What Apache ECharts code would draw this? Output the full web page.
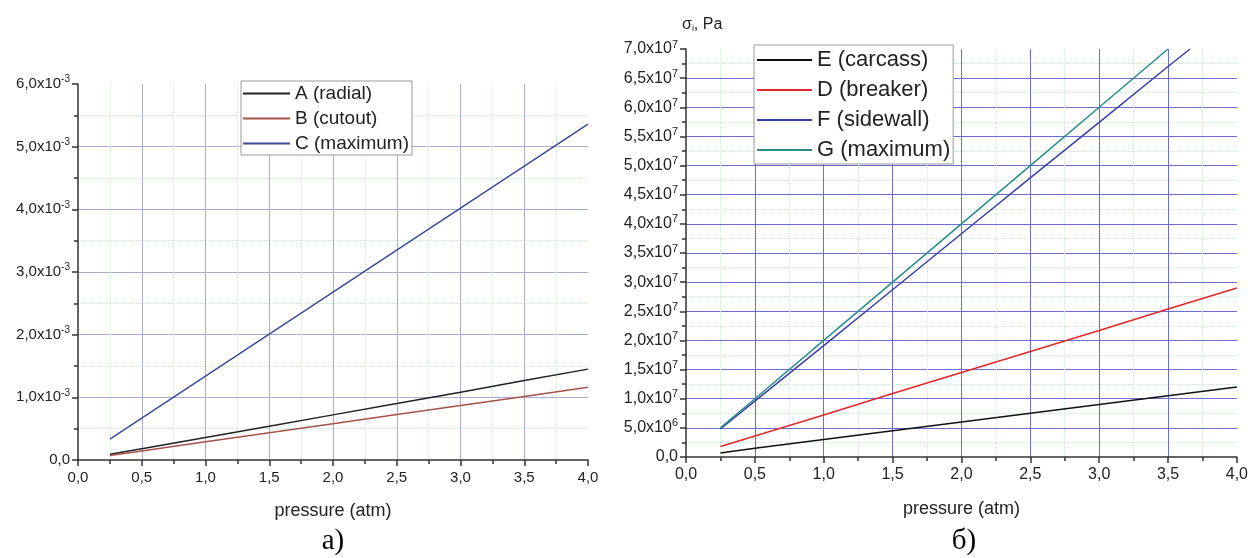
<!DOCTYPE html>
<html>
<head>
<meta charset="utf-8">
<script src="https://cdn.jsdelivr.net/npm/echarts@6/dist/echarts.min.js"></script>
<style>
  html, body { margin: 0; padding: 0; background: #fff; }
  #chart { width: 1251px; height: 558px; }
</style>
</head>
<body>
<div id="chart"></div>
<script>
// pressure (atm)
const pressure = [0.25, 0.5, 1.0, 1.5, 2.0, 2.5, 3.0, 3.5, 4.0];
const xTicks = ['0,0', '0,5', '1,0', '1,5', '2,0', '2,5', '3,0', '3,5', '4,0'];

// chart a)
const radialA = [0.09e-3, 0.18e-3, 0.36e-3, 0.54e-3, 0.72e-3, 0.90e-3, 1.08e-3, 1.27e-3, 1.45e-3];
const cutoutB = [0.07e-3, 0.145e-3, 0.29e-3, 0.435e-3, 0.58e-3, 0.725e-3, 0.87e-3, 1.015e-3, 1.16e-3];
const maximumC = [0.335e-3, 0.67e-3, 1.34e-3, 2.01e-3, 2.68e-3, 3.35e-3, 4.02e-3, 4.69e-3, 5.36e-3];

// chart б)
const carcassE = [0.07e7, 0.15e7, 0.30e7, 0.45e7, 0.60e7, 0.75e7, 0.90e7, 1.05e7, 1.20e7];
const breakerD = [0.18e7, 0.36e7, 0.72e7, 1.09e7, 1.45e7, 1.81e7, 2.17e7, 2.54e7, 2.90e7];
const pressureF = [0.25, 0.5, 1.0, 1.5, 2.0, 2.5, 3.0, 3.5, 3.66];
const sidewallF = [0.48e7, 0.96e7, 1.91e7, 2.87e7, 3.83e7, 4.79e7, 5.74e7, 6.70e7, 7.0e7];
const pressureG = [0.25, 0.5, 1.0, 1.5, 2.0, 2.5, 3.0, 3.5];
const maximumG = [0.50e7, 1.00e7, 2.00e7, 3.00e7, 4.00e7, 5.00e7, 6.00e7, 7.00e7];

const FONT = '"Liberation Sans", Arial, sans-serif';
const SERIF = '"Liberation Serif", "Times New Roman", serif';
const zip = (xs, ys) => ys.map((y, i) => [xs[i], y]);

const chart = echarts.init(document.getElementById('chart'));

// y labels like 6,0x10^-3
function sciLabel(v, exp) {
  const m = (v / Math.pow(10, exp)).toFixed(1).replace('.', ',');
  return '{b|' + m + 'x10}{s|' + exp + '}';
}
function richLabel(size) {
  return {
    b: { fontSize: size, fontFamily: FONT, color: '#222' },
    s: { fontSize: size - 5, fontFamily: FONT, color: '#222', padding: [0, 0, 9, 0] }
  };
}

const minorGrid = { show: true, lineStyle: { color: '#cfe6cf', type: 'dotted', width: 1 } };
const axisDark = { color: '#333', width: 1.5 };

function xAxisFor(gridIndex, labelSize, gridColor, nameGap) {
  return {
    type: 'value', gridIndex, min: 0, max: 4, interval: 0.5,
    name: 'pressure (atm)', nameLocation: 'middle', nameGap,
    nameTextStyle: { fontSize: 18, fontFamily: FONT, color: '#222' },
    axisLine: { onZero: false, lineStyle: axisDark },
    axisTick: { length: 6, lineStyle: axisDark },
    minorTick: { show: true, splitNumber: 2, length: 4, lineStyle: axisDark },
    axisLabel: {
      fontSize: labelSize, fontFamily: FONT, color: '#222', margin: 10,
      formatter: v => xTicks[Math.round(v / 0.5)]
    },
    splitLine: { show: true, showMinLine: false, showMaxLine: false, lineStyle: { color: gridColor, width: 1 } },
    minorSplitLine: minorGrid
  };
}

const option = {
  backgroundColor: '#fff',
  animation: false,
  graphic: [
    { type: 'text', x: 333, y: 541, style: { text: 'а)', font: '29px ' + SERIF, fill: '#000', textAlign: 'center', textVerticalAlign: 'middle' } },
    { type: 'text', x: 964, y: 541, style: { text: 'б)', font: '29px ' + SERIF, fill: '#000', textAlign: 'center', textVerticalAlign: 'middle' } }
  ],
  grid: [
    { left: 78, top: 84, width: 510, height: 376 },
    { left: 686, top: 49, width: 555, height: 408 }
  ],
  legend: [
    {
      data: ['A (radial)', 'B (cutout)', 'C (maximum)'],
      orient: 'vertical', left: 241, top: 81,
      icon: 'rect', itemWidth: 47, itemHeight: 2, itemGap: 6,
      padding: [3, 3, 2, 2],
      borderColor: '#999', borderWidth: 1, backgroundColor: '#fff',
      textStyle: { fontSize: 19, fontFamily: FONT, color: '#222' }
    },
    {
      data: ['E (carcass)', 'D (breaker)', 'F (sidewall)', 'G (maximum)'],
      orient: 'vertical', left: 754, top: 45,
      icon: 'rect', itemWidth: 55, itemHeight: 2, itemGap: 8,
      padding: [4, 3, 3, 3],
      borderColor: '#999', borderWidth: 1, backgroundColor: '#fff',
      textStyle: { fontSize: 22, fontFamily: FONT, color: '#222' }
    }
  ],
  xAxis: [xAxisFor(0, 15, '#a9add6', 42), xAxisFor(1, 16, '#6c6cd8', 43)],
  yAxis: [
    {
      type: 'value', gridIndex: 0, min: 0, max: 6e-3, interval: 1e-3,
      axisLine: { show: true, lineStyle: axisDark },
      axisTick: { show: true, length: 6, lineStyle: axisDark },
      minorTick: { show: true, splitNumber: 2, length: 4, lineStyle: axisDark },
      axisLabel: {
        margin: 8, rich: richLabel(15),
        formatter: v => (v === 0 ? '{b|0,0}' : sciLabel(v, -3))
      },
      splitLine: { show: true, showMinLine: false, showMaxLine: false, lineStyle: { color: '#a9add6', width: 1 } },
      minorSplitLine: minorGrid
    },
    {
      type: 'value', gridIndex: 1, min: 0, max: 7e7, interval: 5e6,
      name: '{g|σ}{sub|i}{g|, Pa}', nameLocation: 'end', nameGap: 16,
      nameTextStyle: {
        align: 'left', padding: [0, 0, 0, -4],
        rich: {
          g: { fontSize: 16, fontFamily: FONT, color: '#222' },
          sub: { fontSize: 9, fontFamily: FONT, color: '#222', padding: [8, 0, 0, 0] }
        }
      },
      axisLine: { show: true, lineStyle: axisDark },
      axisTick: { show: true, length: 6, lineStyle: axisDark },
      minorTick: { show: true, splitNumber: 2, length: 4, lineStyle: axisDark },
      axisLabel: {
        margin: 8, rich: richLabel(16),
        formatter: v => (v === 0 ? '{b|0,0}' : v < 1e7 ? sciLabel(v, 6) : sciLabel(v, 7))
      },
      splitLine: { show: true, showMinLine: false, showMaxLine: false, lineStyle: { color: '#6c6cd8', width: 1 } },
      minorSplitLine: minorGrid
    }
  ],
  series: [
    { name: 'A (radial)', type: 'line', xAxisIndex: 0, yAxisIndex: 0, showSymbol: false, color: '#222222', lineStyle: { width: 1.5 }, data: zip(pressure, radialA) },
    { name: 'B (cutout)', type: 'line', xAxisIndex: 0, yAxisIndex: 0, showSymbol: false, color: '#a5524a', lineStyle: { width: 1.5 }, data: zip(pressure, cutoutB) },
    { name: 'C (maximum)', type: 'line', xAxisIndex: 0, yAxisIndex: 0, showSymbol: false, color: '#3c4a98', lineStyle: { width: 1.5 }, data: zip(pressure, maximumC) },
    { name: 'E (carcass)', type: 'line', xAxisIndex: 1, yAxisIndex: 1, showSymbol: false, color: '#111111', lineStyle: { width: 1.5 }, data: zip(pressure, carcassE) },
    { name: 'D (breaker)', type: 'line', xAxisIndex: 1, yAxisIndex: 1, showSymbol: false, color: '#e3262b', lineStyle: { width: 1.5 }, data: zip(pressure, breakerD) },
    { name: 'F (sidewall)', type: 'line', xAxisIndex: 1, yAxisIndex: 1, showSymbol: false, color: '#3a3fa8', lineStyle: { width: 1.5 }, data: zip(pressureF, sidewallF) },
    { name: 'G (maximum)', type: 'line', xAxisIndex: 1, yAxisIndex: 1, showSymbol: false, color: '#2a8c8a', lineStyle: { width: 1.5 }, data: zip(pressureG, maximumG) }
  ]
};

chart.setOption(option);
</script>
</body>
</html>
